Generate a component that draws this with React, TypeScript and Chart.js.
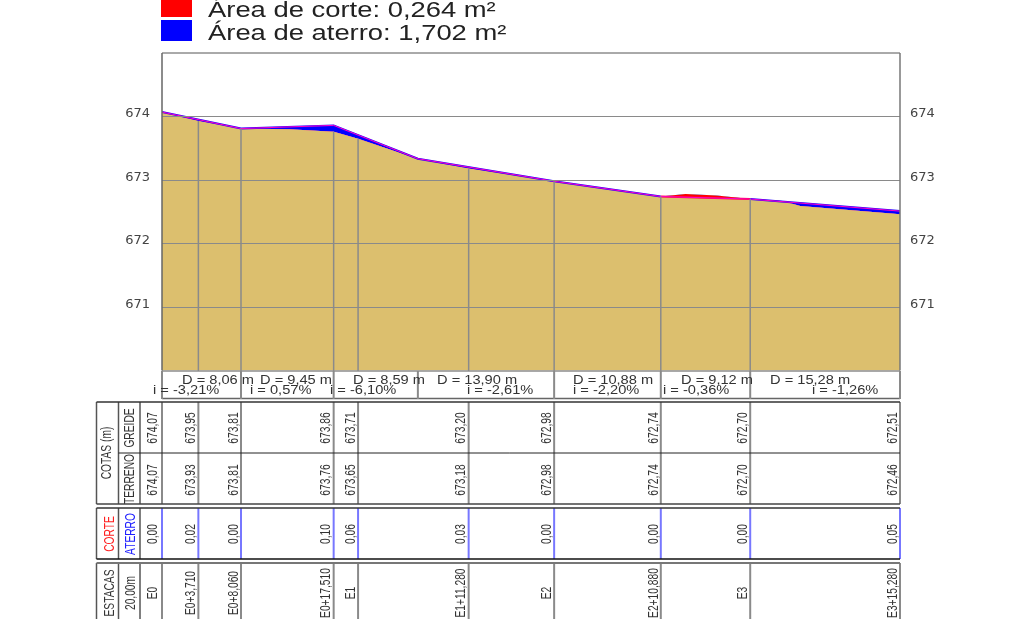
import React, { useEffect, useRef } from "react";
import { Chart, registerables } from "chart.js";

Chart.register(...registerables);

const terrainX = [0, 3.71, 8.06, 13, 17.51, 20, 26.1, 31.28, 40, 50.88, 53.4, 56.6, 60, 63.3, 65.1, 75.28];
const terrainY = [674.07, 673.93, 673.81, 673.8, 673.76, 673.65, 673.33, 673.18, 672.98, 672.74, 672.78, 672.755, 672.7, 672.67, 672.59, 672.46];
const greideX = [0, 8.06, 17.51, 26.1, 40, 50.88, 60, 75.28];
const greideY = [674.07, 673.81, 673.86, 673.335, 672.98, 672.74, 672.7, 672.51];

const stationX = [0, 3.71, 8.06, 17.51, 20, 31.28, 40, 50.88, 60, 75.28];
const stationNames = ["E0", "E0+3,710", "E0+8,060", "E0+17,510", "E1", "E1+11,280", "E2", "E2+10,880", "E3", "E3+15,280"];
const greideLabels = ["674,07", "673,95", "673,81", "673,86", "673,71", "673,20", "672,98", "672,74", "672,70", "672,51"];
const terrainLabels = ["674,07", "673,93", "673,81", "673,76", "673,65", "673,18", "672,98", "672,74", "672,70", "672,46"];
const aterroLabels = ["0,00", "0,02", "0,00", "0,10", "0,06", "0,03", "0,00", "0,00", "0,00", "0,05"];

const distanceLabels = ["D = 8,06 m", "D = 9,45 m", "D = 8,59 m", "D = 13,90 m", "D = 10,88 m", "D = 9,12 m", "D = 15,28 m"];
const distanceLeft = [182, 260, 353, 437, 573, 681, 770];
const slopeLabels = ["i = -3,21%", "i = 0,57%", "i = -6,10%", "i = -2,61%", "i = -2,20%", "i = -0,36%", "i = -1,26%"];
const slopeLeft = [153, 250, 330, 467, 573, 663, 812];

const legendLabels = ["Área de corte: 0,264 m²", "Área de aterro: 1,702 m²"];
const yTicks = [671, 672, 673, 674];

const FONT = '"Liberation Sans", Arial, sans-serif';
const GRAY = "#8a8a8a";
const DARK = "#222222";

function txt(ctx: any, s: string, x: number, y: number, o: any = {}) {
  const { size = 14, sx = 1, rot = false, color = "#333333", align = "left", base = "alphabetic" } = o;
  ctx.save();
  ctx.translate(x, y);
  if (rot) ctx.rotate(-Math.PI / 2);
  ctx.scale(sx, 1);
  ctx.font = `${size}px ${FONT}`;
  ctx.fillStyle = color;
  ctx.textAlign = align;
  ctx.textBaseline = base;
  ctx.fillText(s, 0, 0);
  ctx.restore();
}

function seg(ctx: any, x1: number, y1: number, x2: number, y2: number, color: string, w: number) {
  ctx.save();
  ctx.strokeStyle = color;
  ctx.lineWidth = w;
  ctx.beginPath();
  ctx.moveTo(x1, y1);
  ctx.lineTo(x2, y2);
  ctx.stroke();
  ctx.restore();
}

const rotated = (ctx: any, s: string, x: number, y: number, color = "#333333") =>
  txt(ctx, s, x, y, { rot: true, size: 15.5, sx: 0.66, align: "center", base: "middle", color });

const profileTable = {
  id: "profileTable",
  afterDraw(chart: any) {
    const { ctx, scales } = chart;
    const sx = scales.x;
    const sy = scales.y;
    const L = sx.getPixelForValue(0);
    const R = sx.getPixelForValue(75.28);
    const T = sy.getPixelForValue(675);
    const B = sy.getPixelForValue(670);

    // plot frame
    seg(ctx, L, T, R, T, "#555555", 1);
    seg(ctx, L, T, L, B, "#666666", 1.5);
    seg(ctx, R, T, R, B, "#777777", 1.5);

    // station lines from the ground down
    stationX.forEach((v, i) => {
      if (i === 0 || i === stationX.length - 1) return;
      const x = sx.getPixelForValue(v);
      seg(ctx, x, sy.getPixelForValue(terrainY[terrainX.indexOf(v)]), x, B, GRAY, 1.5);
    });

    // legend
    ctx.fillStyle = "#ff0000";
    ctx.fillRect(161, 0, 31, 17);
    ctx.fillStyle = "#0000ff";
    ctx.fillRect(161, 20, 31, 21);
    legendLabels.forEach((s, i) => txt(ctx, s, 208, i === 0 ? 17 : 40, { size: 22, sx: 1.245, color: "#222222" }));

    // D / i row
    seg(ctx, L, 371, R, 371, "#555555", 1);
    seg(ctx, L, 398.5, R, 398.5, "#666666", 1.5);
    greideX.forEach((v) => {
      const x = sx.getPixelForValue(v);
      seg(ctx, x, 371, x, 399, GRAY, 2);
    });
    distanceLabels.forEach((s, i) => txt(ctx, s, distanceLeft[i], 384, { size: 12, sx: 1.22 }));
    slopeLabels.forEach((s, i) => txt(ctx, s, slopeLeft[i], 393.5, { size: 12, sx: 1.22 }));

    // table frames
    const boxes = [[402, 504], [508, 559], [563, 640]];
    const columns = [96.5, 118.5, 140, L];
    boxes.forEach(([a, b], bi) => {
      columns.slice(0, 3).forEach((x) => seg(ctx, x, a, x, b, "#555555", 1.5));
      stationX.forEach((v) => {
        const x = sx.getPixelForValue(v);
        seg(ctx, x, a, x, b, bi === 1 ? "#7777ff" : GRAY, 2);
      });
      seg(ctx, columns[0], a, R, a, bi === 2 ? "#777777" : "#333333", bi === 2 ? 2 : 1.5);
      seg(ctx, columns[0], b, R, b, bi === 1 ? "#111111" : "#444444", 1.5);
    });
    seg(ctx, 118.5, 453, R, 453, DARK, 1);

    // table headers
    rotated(ctx, "COTAS (m)", 107, 453);
    rotated(ctx, "GREIDE", 130, 428);
    rotated(ctx, "TERRENO", 130, 479);
    rotated(ctx, "CORTE", 110, 534, "#ff2020");
    rotated(ctx, "ATERRO", 131, 534, "#2020ff");
    rotated(ctx, "ESTACAS", 110, 593);
    rotated(ctx, "20,00m", 131, 593);

    // table values
    stationX.forEach((v, i) => {
      const x = sx.getPixelForValue(v) - (i === 0 ? 9 : 7.5);
      rotated(ctx, greideLabels[i], x, 428);
      rotated(ctx, terrainLabels[i], x, 480);
      rotated(ctx, aterroLabels[i], x, 534);
      rotated(ctx, stationNames[i], x, 593);
    });
  },
};

export default function App() {
  const ref = useRef<HTMLCanvasElement>(null);
  useEffect(() => {
    const chart = new Chart(ref.current as HTMLCanvasElement, {
      type: "line",
      data: {
        datasets: [
          {
            label: "Terreno",
            data: terrainX.map((x, i) => ({ x, y: terrainY[i] })),
            borderWidth: 0,
            pointRadius: 0,
            backgroundColor: "#dcbf6e",
            fill: "start",
            tension: 0,
            order: 3,
          },
          {
            label: "Greide",
            data: greideX.map((x, i) => ({ x, y: greideY[i] })),
            borderColor: "#2000ff",
            borderWidth: 2,
            pointRadius: 0,
            fill: { target: 0, above: "#0000ff", below: "#ff0000" },
            tension: 0,
            order: 2,
            segment: {
              borderColor: (c: any) => (c.p0.parsed.x === 50.88 ? "#ff0040" : undefined),
            },
          },
          {
            label: "Greide topo",
            data: greideX.map((x, i) => ({ x, y: greideY[i] })),
            borderColor: "#ff00c8",
            borderWidth: 1,
            pointRadius: 0,
            fill: false,
            tension: 0,
            order: 1,
          },
        ],
      },
      options: {
        responsive: false,
        animation: false,
        layout: { padding: { left: 0, right: 0, top: 53, bottom: 248.5 } },
        plugins: { legend: { display: false }, tooltip: { enabled: false } },
        scales: {
          x: {
            type: "linear",
            min: 0,
            max: 75.28,
            grid: { display: false },
            border: { display: false },
            ticks: { display: false },
            afterFit: (s: any) => { s.height = 0; },
          },
          y: {
            position: "left",
            min: 670,
            max: 675,
            border: { display: false },
            grid: { color: GRAY, lineWidth: 1, drawTicks: false, z: 1 },
            afterBuildTicks: (s: any) => { s.ticks = yTicks.map((value) => ({ value })); },
            afterFit: (s: any) => { s.width = 162; },
            ticks: { font: { family: "DejaVu Sans", size: 13 }, color: "#444444", padding: 12, labelOffset: -2.5 },
          },
          y2: {
            position: "right",
            min: 670,
            max: 675,
            border: { display: false },
            grid: { display: false, drawTicks: false },
            afterBuildTicks: (s: any) => { s.ticks = yTicks.map((value) => ({ value })); },
            afterFit: (s: any) => { s.width = 116; },
            ticks: { font: { family: "DejaVu Sans", size: 13 }, color: "#444444", padding: 10, labelOffset: -2.5 },
          },
        },
      },
      plugins: [profileTable],
    } as any);
    return () => chart.destroy();
  }, []);
  return (
    <div style={{ position: "fixed", left: 0, top: 0, width: 1016, height: 619, background: "#fff", overflow: "hidden" }}>
      <canvas ref={ref} width={1016} height={619} style={{ display: "block" }} />
    </div>
  );
}
